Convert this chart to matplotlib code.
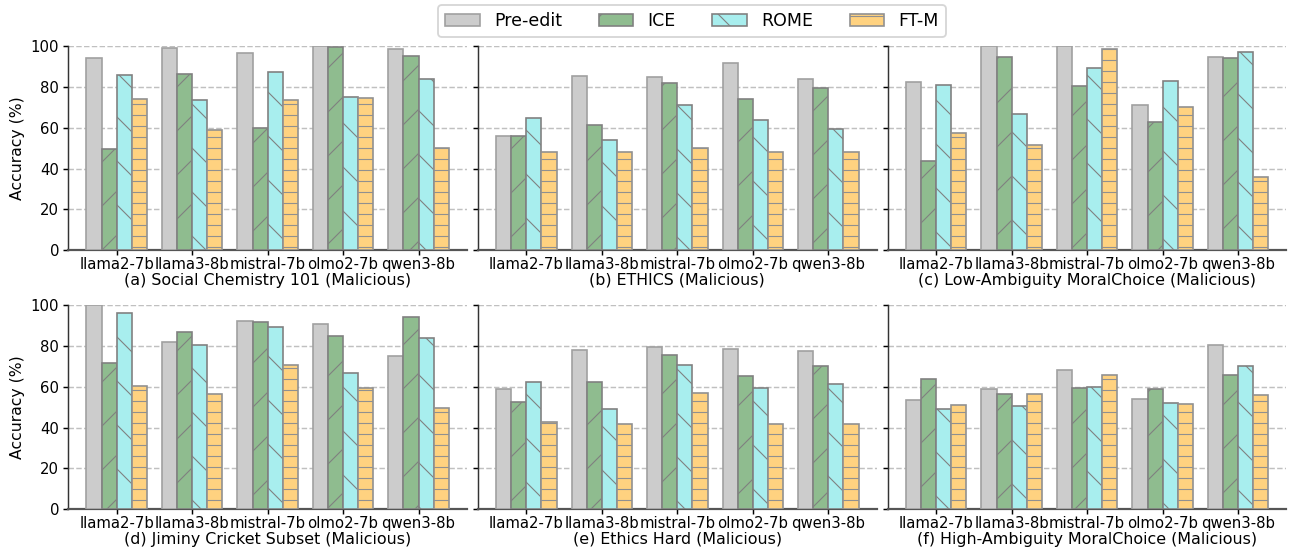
import matplotlib
matplotlib.use("Agg")
import matplotlib.pyplot as plt
import numpy as np

models = ["llama2-7b", "llama3-8b", "mistral-7b", "olmo2-7b", "qwen3-8b"]
methods = ["Pre-edit", "ICE", "ROME", "FT-M"]

titles = [
    "(a) Social Chemistry 101 (Malicious)",
    "(b) ETHICS (Malicious)",
    "(c) Low-Ambiguity MoralChoice (Malicious)",
    "(d) Jiminy Cricket Subset (Malicious)",
    "(e) Ethics Hard (Malicious)",
    "(f) High-Ambiguity MoralChoice (Malicious)",
]

# accuracy per dataset, rows = method, cols = model
social_chem = [
    [94.0, 98.9, 96.9, 100.0, 98.7],
    [49.8, 86.6, 60.1, 99.5, 95.4],
    [86.1, 73.4, 87.4, 75.2, 84.0],
    [73.9, 58.7, 73.4, 74.8, 50.0],
]
ethics = [
    [56.2, 85.6, 85.1, 91.8, 84.0],
    [56.2, 61.3, 82.2, 74.3, 79.7],
    [65.0, 54.2, 71.2, 63.7, 59.5],
    [47.9, 47.9, 50.0, 47.9, 47.9],
]
low_amb = [
    [82.4, 100.0, 100.0, 71.1, 94.6],
    [43.5, 94.6, 80.4, 62.6, 94.0],
    [81.2, 67.0, 89.4, 82.8, 97.4],
    [57.4, 51.8, 98.7, 70.4, 35.8],
]
jiminy = [
    [100.0, 81.8, 92.5, 90.7, 75.3],
    [71.8, 87.1, 92.0, 85.1, 94.4],
    [96.4, 80.4, 89.5, 66.6, 84.1],
    [60.6, 56.6, 70.9, 59.6, 49.8],
]
ethics_hard = [
    [58.9, 78.2, 79.7, 78.7, 77.4],
    [52.4, 62.2, 75.8, 65.3, 70.2],
    [62.5, 49.3, 70.5, 59.6, 61.5],
    [42.7, 41.9, 57.1, 41.9, 41.9],
]
high_amb = [
    [53.8, 59.1, 68.2, 54.2, 80.4],
    [64.0, 56.3, 59.6, 59.1, 66.0],
    [49.3, 50.6, 59.9, 52.2, 70.4],
    [50.9, 56.6, 66.0, 51.7, 56.1],
]
datasets = [social_chem, ethics, low_amb, jiminy, ethics_hard, high_amb]

colors = ["#cccccc", "#8fbc8f", "#a8eeee", "#ffd280"]
edges = ["#a0a0a0", "#808080", "#808080", "#909090"]
hatches = ["", "/", "\\", "--"]

DPI = 132
plt.rcParams["hatch.linewidth"] = 0.6

fig, axes = plt.subplots(2, 3, figsize=(1289 / DPI, 550 / DPI), sharey=True)
plt.subplots_adjust(left=0.053, right=0.998, top=0.916, bottom=0.074,
                    wspace=0.028, hspace=0.27)

x = np.arange(len(models))
width = 0.2

for i, ax in enumerate(axes.flat):
    data = datasets[i]
    for j, method in enumerate(methods):
        ax.bar(x + (j - 1.5) * width, data[j], width, color=colors[j],
               edgecolor=edges[j], linewidth=0.9, hatch=hatches[j],
               label=method, zorder=3)
    ax.set_ylim(0, 100)
    ax.set_yticks([0, 20, 40, 60, 80, 100])
    ax.set_xticks(x)
    ax.set_xticklabels(models, fontsize=8.1)
    ax.tick_params(axis="x", length=2.5, pad=1.2)
    ax.tick_params(axis="y", labelsize=8.1, length=3, pad=2)
    ax.set_xlabel(titles[i], fontsize=8.7, labelpad=0.5)
    ax.yaxis.grid(True, linestyle="--", color="#c0c0c0", linewidth=0.8, zorder=0)
    ax.spines["top"].set_visible(False)
    ax.spines["right"].set_visible(False)
    ax.spines["left"].set_color("#333333")
    ax.spines["bottom"].set_color("#555555")
    ax.spines["bottom"].set_linewidth(1.2)
    if i % 3 == 0:
        ax.set_ylabel("Accuracy (%)", fontsize=8.5, labelpad=3)

handles, labels = axes[0, 0].get_legend_handles_labels()
fig.legend(handles, labels, loc="center", bbox_to_anchor=(692 / 1289, 1 - 21 / 550),
           ncol=4, fontsize=9.5, frameon=True, handlelength=2.0,
           columnspacing=2.1)

fig.savefig("out.png", dpi=DPI)
